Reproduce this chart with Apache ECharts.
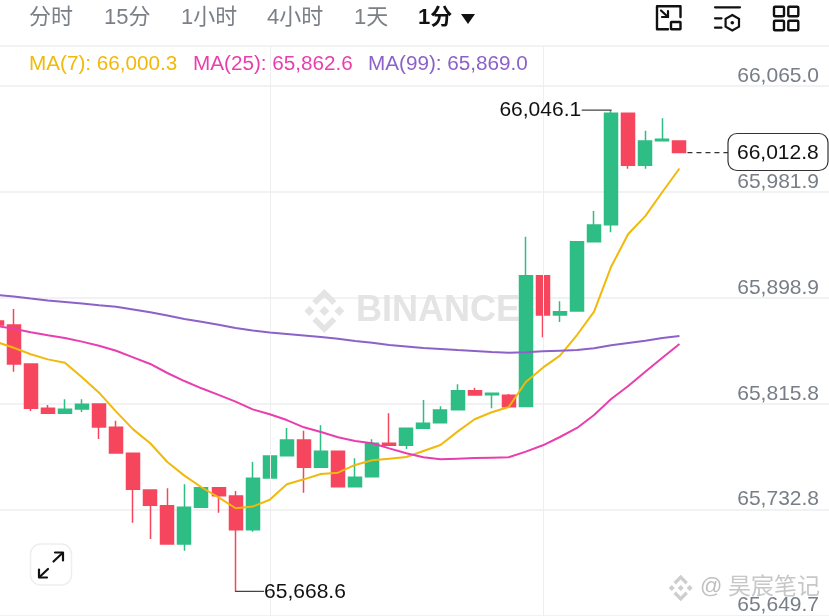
<!DOCTYPE html>
<html><head><meta charset="utf-8">
<style>html,body{margin:0;padding:0;background:#fff}#c{width:829px;height:616px}</style>
<script src="https://cdn.jsdelivr.net/npm/echarts@6/dist/echarts.min.js"></script>
</head><body><div id="c"></div>
<script>
// [open, close, low, high]
const candles = [
[65880.7,65877.6,65877.6,65881.5],[65877.6,65847.0,65840.9,65890.1],[65847.0,65812.2,65810.1,65847.0],[65812.2,65808.3,65808.3,65814.8],
[65808.3,65811.4,65808.3,65819.3],[65811.7,65815.4,65809.3,65819.3],[65815.6,65797.6,65788.1,65815.6],[65797.3,65777.2,65777.2,65802.5],
[65776.9,65748.7,65722.5,65776.9],[65748.1,65736.1,65709.7,65748.1],[65735.8,65705.8,65705.8,65749.5],[65705.8,65734.6,65700.5,65752.6],
[65734.6,65749.9,65734.6,65749.9],[65749.9,65743.7,65730.3,65749.9],[65743.4,65717.0,65668.6,65747.4],[65717.0,65757.3,65715.4,65770.1],
[65757.6,65774.8,65757.6,65774.8],[65775.0,65787.4,65775.0,65796.8],[65787.4,65765.9,65746.0,65794.7],[65765.9,65778.5,65765.9,65798.9],
[65778.5,65750.7,65750.7,65778.5],[65750.7,65758.1,65750.7,65773.0],[65758.6,65784.8,65758.6,65787.9],[65784.8,65783.2,65783.2,65808.3],
[65783.2,65796.5,65780.3,65796.5],[65796.5,65800.5,65796.5,65818.7],[65800.9,65810.9,65800.9,65813.8],[65811.1,65826.0,65811.1,65831.0],
[65826.0,65822.7,65822.7,65828.4],[65822.9,65824.0,65812.2,65824.0],[65822.4,65813.5,65813.5,65823.4],[65813.6,65916.2,65813.6,65946.8],
[65916.2,65885.4,65867.9,65916.2],[65885.4,65888.0,65879.9,65896.1],[65888.5,65942.9,65888.5,65942.9],[65942.9,65956.0,65942.9,65967.0],
[65956.2,66043.6,65950.3,66046.1],[66043.6,66002.8,66000.1,66043.6],[66002.8,66021.9,66000.1,66029.9],[66022.1,66023.2,66022.1,66039.7],
[66021.9,66012.8,66012.8,66021.9]
];
const ma7 = [65864.2,65859.7,65854.6,65850.6,65848.0,65836.5,65824.5,65809.6,65795.7,65784.8,65770.1,65759.4,65750.3,65742.4,65733.8,65735.1,65740.5,65752.6,65756.5,65760.7,65761.7,65767.8,65771.4,65772.7,65774.0,65778.7,65783.4,65793.9,65803.6,65809.1,65813.2,65832.8,65844.1,65853.5,65869.7,65888.0,65923.3,65948.9,65963.0,65981.9,66000.3];
const ma25 = [65876.8,65874.6,65871.8,65869.5,65867.4,65864.5,65861.3,65857.4,65852.2,65847.0,65839.9,65833.6,65827.9,65822.7,65817.4,65811.4,65807.6,65803.0,65797.3,65793.6,65789.5,65786.6,65784.8,65780.8,65776.9,65773.8,65772.2,65772.7,65773.2,65773.5,65773.8,65778.2,65783.2,65789.7,65796.8,65807.0,65819.5,65829.7,65840.9,65851.9,65862.6];
const ma99 = [65901.1,65899.9,65898.3,65896.8,65895.6,65894.4,65893.0,65891.9,65889.7,65887.5,65885.0,65882.3,65880.1,65877.8,65875.2,65873.2,65871.7,65870.5,65869.3,65868.1,65866.7,65865.0,65863.6,65861.9,65860.7,65859.5,65858.7,65857.9,65857.2,65856.4,65855.8,65856.1,65856.9,65857.4,65857.9,65859.3,65861.6,65863.4,65865.2,65867.4,65869.0];
const yTicks = [65649.7,65732.8,65815.8,65898.9,65981.9,66065.0];
const gridColumns = [16,32];
const highPoint = {k:36,v:66046.1}, lowPoint = {k:14,v:65668.6}, lastPoint = {k:40,v:66012.8};
const tabs = ['分时','15分','1小时','4小时','1天'];
const slots = 50;
const fmt = v => v.toLocaleString('en-US',{minimumFractionDigits:1,maximumFractionDigits:1});
const FONT = '"Liberation Sans","Noto Sans CJK SC",sans-serif';
const GREEN='#2EBD85', RED='#F6465D', YEL='#F0B90B', PINK='#E83EAE', PUR='#8C62C8';
const cats = Array.from({length:slots},(_,i)=>String(i));
const pad = a => a.concat(Array(slots-a.length).fill('-'));
const chart = echarts.init(document.getElementById('c'),null,{renderer:'canvas'});
const lineS=(name,data,color)=>({name,type:'line',data:pad(data),symbol:'none',smooth:false,silent:true,lineStyle:{color,width:2},z:5,animation:false});
chart.setOption({
 animation:false,backgroundColor:'#fff',
 grid:{left:-11.9,top:46,width:17.07*slots,height:570,outerBoundsMode:'none'},
 xAxis:{type:'category',data:cats,boundaryGap:true,axisLine:{show:false},axisTick:{show:false},axisLabel:{show:false},splitLine:{show:false}},
 yAxis:{type:'value',position:'right',min:65649.3,max:66096.4,scale:true,
  axisLine:{show:false},
  axisTick:{show:false,customValues:yTicks},
  splitLine:{show:true,lineStyle:{color:'#EEEEEE',width:1.5}},
  axisLabel:{inside:true,margin:22.6,customValues:yTicks,color:'#777E87',fontSize:21,fontFamily:FONT,verticalAlign:'bottom',showMinLabel:true,showMaxLabel:true,lineHeight:20,formatter:v=>fmt(v)}},
 series:[
  {name:'K',type:'candlestick',data:pad(candles).map(d=>d==='-'?['-','-','-','-']:d),barWidth:13.5,z:3,silent:true,
   itemStyle:{color:GREEN,color0:RED,borderColor:GREEN,borderColor0:RED,borderWidth:1.5,borderColorDoji:GREEN},
   markLine:{silent:true,symbol:'none',label:{show:false},lineStyle:{color:'#EEEEEE',width:1,type:'solid'},data:gridColumns.map(k=>({xAxis:k}))}},
  lineS('MA(7)',ma7,YEL),lineS('MA(25)',ma25,PINK),lineS('MA(99)',ma99,PUR)
 ]
});
const px=(k,v)=>chart.convertToPixel({gridIndex:0},[k,v]);
const g=[];
const txt=(x,y,text,fill,size,extra={},z=20)=>g.push({type:'text',x,y,z,style:Object.assign({text,fill,fontSize:size,fontFamily:FONT,verticalAlign:'middle'},extra)});
const pl=(pts,stroke,lw,z=20)=>g.push({type:'polyline',z,shape:{points:pts},style:{stroke,lineWidth:lw,fill:'none',lineJoin:'round',lineCap:'round'}});
const pg=(pts,style,z=20)=>g.push({type:'polygon',z,shape:{points:pts},style});
const box=(x,y,w,h,r,stroke,lw)=>g.push({type:'rect',z:20,shape:{x,y,width:w,height:h,r},style:{fill:'none',stroke,lineWidth:lw}});
// header
g.push({type:'rect',z:1,shape:{x:0,y:45,width:829,height:2},style:{fill:'#F3F3F3'}});
const tabX=[29,104,181,267,354];
tabs.forEach((t,i)=>txt(tabX[i],18,t,'#7B8087',22));
txt(418,18,'1分','#111',22,{fontWeight:'bold'});
pg([[461,14],[475,14],[468,24]],{fill:'#111'});
// legend
const lx=[29,193,368];
[['MA(7)',ma7,YEL],['MA(25)',ma25,PINK],['MA(99)',ma99,PUR]].forEach((m,i)=>txt(lx[i],64.5,`${m[0]}: ${fmt(m[1][m[1].length-1])}`,m[2],20.7));
// high / low / last annotations
const hp=px(highPoint.k,highPoint.v), lp=px(lowPoint.k,lowPoint.v), cp=px(lastPoint.k,lastPoint.v);
pl([[hp[0]-29,hp[1]],[hp[0],hp[1]]],'#444',1.2,21);
txt(hp[0]-30,hp[1]+0.5,fmt(highPoint.v),'#111',21,{align:'right'},21);
pl([[lp[0],lp[1]],[lp[0]+28,lp[1]]],'#444',1.2,21);
txt(lp[0]+28.5,lp[1]+0.5,fmt(lowPoint.v),'#111',21,{},21);
g.push({type:'line',z:21,shape:{x1:cp[0]+8,y1:cp[1],x2:728,y2:cp[1]},style:{stroke:'#333',lineWidth:1.2,lineDash:[5,4]}});
g.push({type:'rect',z:21,shape:{x:728,y:133.5,width:100,height:37,r:9},style:{fill:'#fff',stroke:'#333',lineWidth:1.2}});
txt(737,cp[1]+0.5,fmt(lastPoint.v),'#111',21,{},22);
// header icons
pl([[668,29.3],[657,29.3],[657,6.3],[680.5,6.3],[680.5,17]],'#111',2.4);
box(671,22,9.5,7.3,0.5,'#111',2.4);
pl([[661,10.5],[668,17]],'#111',2.2);
pl([[668,11],[668,17],[662,17]],'#111',2.2);
pl([[715,7.3],[740,7.3]],'#111',2.2);
pl([[715,18.3],[721.5,18.3]],'#111',2.2);
pl([[715,27.7],[721.5,27.7]],'#111',2.2);
pg([[732.3,15],[739,18.8],[739,26.6],[732.3,30.4],[725.6,26.6],[725.6,18.8]],{fill:'none',stroke:'#111',lineWidth:2.2});
g.push({type:'circle',z:20,shape:{cx:732.3,cy:22.7,r:1.8},style:{fill:'#111'}});
box(774,6.7,10,9.5,1,'#111',2.4);box(788.3,6.7,10,9.5,1,'#111',2.4);box(774,20.7,10,9.5,1,'#111',2.4);box(788.3,20.7,10,9.5,1,'#111',2.4);
// expand button
g.push({type:'rect',z:20,shape:{x:30.5,y:544,width:41,height:41,r:10},style:{fill:'#fff',stroke:'#EEEEEE',lineWidth:1.5}});
pl([[53.5,561.5],[62.5,553]],'#111',2.2,21);pl([[55,552.5],[63,552.5],[63,560.5]],'#111',2.2,21);
pl([[48,569],[39.5,577]],'#111',2.2,21);pl([[39,569.5],[39,577.5],[47,577.5]],'#111',2.2,21);
// watermark logo
const dia=(cx,cy,r)=>[[cx,cy-r],[cx+r,cy],[cx,cy+r],[cx-r,cy]];
const logo=(cx,cy,s,fill,z)=>{
 pg(dia(cx,cy,5*s),{fill},z);pg(dia(cx-15*s,cy,5*s),{fill},z);pg(dia(cx+15*s,cy,5*s),{fill},z);
 pg([[cx,cy-22*s],[cx+12*s,cy-10*s],[cx+8*s,cy-6*s],[cx,cy-14*s],[cx-8*s,cy-6*s],[cx-12*s,cy-10*s]],{fill},z);
 pg([[cx,cy+22*s],[cx+12*s,cy+10*s],[cx+8*s,cy+6*s],[cx,cy+14*s],[cx-8*s,cy+6*s],[cx-12*s,cy+10*s]],{fill},z);
};
logo(324.3,311,1,'#E4E4E4',2);
txt(356,311.5,'BINANCE','#E4E4E4',36,{fontWeight:'bold'},2);
// bottom-right watermark
logo(680.7,588,0.6,'rgba(190,190,190,0.75)',30);
txt(700,587,'@','rgba(170,170,170,0.75)',22,{},30);
txt(728,588,'昊宸笔记','rgba(175,175,175,0.7)',23,{},30);
chart.setOption({graphic:{elements:g}});
</script></body></html>
